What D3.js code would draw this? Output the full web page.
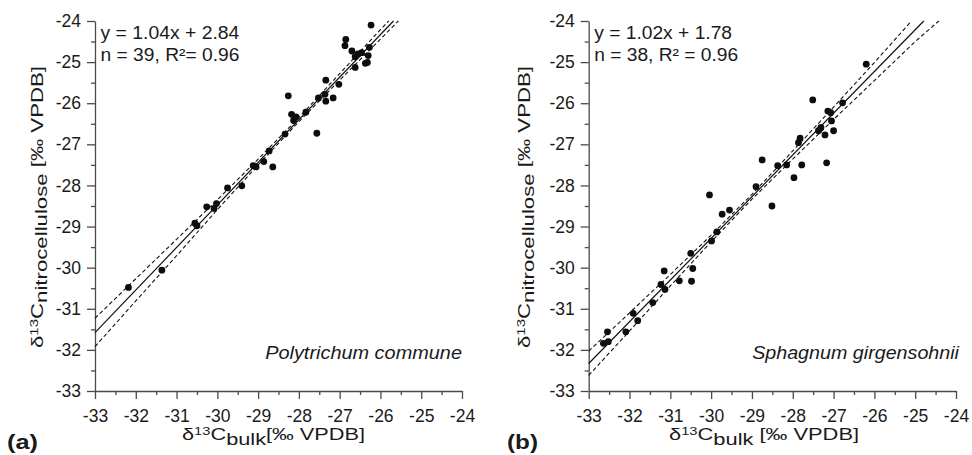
<!DOCTYPE html>
<html><head><meta charset="utf-8">
<script src="https://cdn.jsdelivr.net/npm/d3@7/dist/d3.min.js"></script>
<style>body{margin:0;background:#fff}svg{display:block;font-family:"Liberation Sans",Arial,sans-serif}</style>
</head><body>
<svg id="chart" width="972" height="455"></svg>
<script>
// ---------- DATA ----------
const axisDomain = [-33, -24];
const majorTicks = [-33, -32, -31, -30, -29, -28, -27, -26, -25, -24];
const minorTicks = [-32.5, -31.5, -30.5, -29.5, -28.5, -27.5, -26.5, -25.5, -24.5];

// Panel (a) Polytrichum commune
const bulkA  = [-26.23,-26.85,-26.87,-26.70,-26.62,-26.46,-26.27,-26.30,-26.32,-26.37,-26.62,-27.34,-27.02,-27.36,-27.16,-27.34,-27.52,-27.83,-27.56,-28.26,-28.18,-28.07,-28.13,-28.34,-28.73,-28.86,-28.64,-29.05,-29.12,-29.75,-29.40,-30.26,-30.02,-30.08,-30.55,-30.50,-31.36,-32.18,-26.55];
const nitroA = [-24.10,-24.45,-24.60,-24.73,-24.87,-24.77,-24.64,-24.84,-25.01,-25.03,-25.13,-25.44,-25.54,-25.78,-25.87,-25.95,-25.87,-26.22,-26.73,-25.82,-26.27,-26.33,-26.42,-26.75,-27.16,-27.42,-27.55,-27.55,-27.52,-28.06,-28.01,-28.52,-28.44,-28.56,-28.92,-28.98,-30.06,-30.48,-24.80];
const fitA   = [[-33, -31.58], [-25.68, -24.0]];
const upperA = [[-33,-31.23],[-32,-30.27],[-31,-29.31],[-30,-28.35],[-29,-27.36],[-28,-26.35],[-27,-25.28],[-26,-24.21],[-25.8,-24.0]];
const lowerA = [[-33,-31.92],[-32,-30.81],[-31,-29.71],[-30,-28.59],[-29,-27.50],[-28,-26.45],[-27,-25.44],[-26,-24.44],[-25.56,-24.0]];
const eqA = ["y = 1.04x + 2.84", "n = 39, R\u00B2= 0.96"];
const speciesA = "Polytrichum commune";

// Panel (b) Sphagnum girgensohnii
const bulkB  = [-26.20,-27.51,-26.78,-27.14,-27.07,-27.05,-27.00,-27.21,-27.31,-27.37,-27.82,-27.86,-27.17,-27.78,-28.15,-28.37,-27.97,-28.75,-28.90,-28.51,-30.04,-29.73,-29.55,-29.86,-29.99,-30.50,-30.45,-30.48,-30.78,-31.15,-31.23,-31.13,-31.43,-31.91,-31.80,-32.09,-32.54,-32.64,-32.52];
const nitroB = [-25.05,-25.92,-25.99,-26.19,-26.23,-26.43,-26.67,-26.77,-26.59,-26.67,-26.85,-26.96,-27.45,-27.50,-27.50,-27.52,-27.81,-27.38,-28.03,-28.50,-28.23,-28.70,-28.60,-29.13,-29.35,-29.65,-30.02,-30.33,-30.32,-30.08,-30.41,-30.53,-30.85,-31.11,-31.29,-31.56,-31.56,-31.84,-31.80];
const fitB   = [[-33, -32.33], [-24.79, -24.0]];
const upperB = [[-33,-32.03],[-32,-31.10],[-31,-30.165],[-30,-29.21],[-29,-28.215],[-28,-27.16],[-27,-26.095],[-26,-25.01],[-25.09,-24.0]];
const lowerB = [[-33,-32.62],[-32,-31.54],[-31,-30.445],[-30,-29.37],[-29,-28.335],[-28,-27.36],[-27,-26.395],[-26,-25.45],[-25,-24.5],[-24.42,-24.0]];
const eqB = ["y = 1.02x + 1.78", "n = 38, R\u00B2 = 0.96"];
const speciesB = "Sphagnum girgensohnii";

// ---------- DRAW ----------
const svg = d3.select("#chart");
const TXT = "#1a1a1a", AX = "#4a4a4a";

// place a text group, scaled horizontally to a target width
function fitted(parent, x, y, width, build, anchor, rotate) {
  const g = parent.append("g");
  const t = g.append("text").attr("fill", TXT).attr("text-anchor", anchor || "start");
  build(t);
  const w = t.node().getBBox().width;
  const s = width / w;
  g.attr("transform", `translate(${x},${y})` + (rotate ? " rotate(-90)" : "") + ` scale(${s},1)`);
  return g;
}

function panel(cfg) {
  const x = d3.scaleLinear().domain(axisDomain).range(cfg.xr);
  const y = d3.scaleLinear().domain(axisDomain).range([391, 21]);
  const g = svg.append("g");

  // axes
  const ax = g.append("g").attr("transform", "translate(0,391)")
    .call(d3.axisBottom(x).tickValues(majorTicks).tickSize(8).tickSizeOuter(0).tickPadding(11).tickFormat(d => String(d)));
  g.append("g").attr("transform", "translate(0,391)")
    .call(d3.axisBottom(x).tickValues(minorTicks).tickSize(4).tickSizeOuter(0).tickFormat(""))
    .select(".domain").remove();
  const ay = g.append("g").attr("transform", `translate(${cfg.xr[0]},0)`)
    .call(d3.axisLeft(y).tickValues(majorTicks).tickSize(8).tickSizeOuter(0).tickPadding(6).tickFormat(d => String(d)));
  g.append("g").attr("transform", `translate(${cfg.xr[0]},0)`)
    .call(d3.axisLeft(y).tickValues(minorTicks).tickSize(4).tickSizeOuter(0).tickFormat(""))
    .select(".domain").remove();
  g.selectAll(".domain, .tick line").attr("stroke", AX).attr("stroke-width", 1.3);
  g.selectAll(".tick text").attr("fill", TXT).attr("font-size", 17.5)
    .attr("font-family", '"Liberation Sans",Arial,sans-serif');

  // lines
  const line = d3.line().x(d => x(d[0])).y(d => y(d[1]));
  g.append("path").datum(cfg.upper).attr("d", line).attr("fill", "none")
    .attr("stroke", "#111").attr("stroke-width", 1.1).attr("stroke-dasharray", "4,2.6");
  g.append("path").datum(cfg.lower).attr("d", line).attr("fill", "none")
    .attr("stroke", "#111").attr("stroke-width", 1.1).attr("stroke-dasharray", "4,2.6");
  g.append("path").datum(cfg.fit).attr("d", line).attr("fill", "none")
    .attr("stroke", "#111").attr("stroke-width", 1.2);

  // points
  g.selectAll("circle.pt").data(cfg.bx.map((v, i) => [v, cfg.ny[i]])).join("circle")
    .attr("class", "pt").attr("cx", d => x(d[0])).attr("cy", d => y(d[1]))
    .attr("r", 3.4).attr("fill", "#0d0d0d");

  // equation text
  fitted(g, cfg.xr[0] + 5.5, 39, cfg.eqW[0], t => t.attr("font-size", 18).text(cfg.eq[0]));
  fitted(g, cfg.xr[0] + 5.5, 61, cfg.eqW[1], t => t.attr("font-size", 18).text(cfg.eq[1]));

  // species label
  fitted(g, cfg.spX, 359, cfg.spW, t => t.attr("font-size", 18).attr("font-style", "italic").text(cfg.species), "end");

  // x axis title
  fitted(g, cfg.xlX, 440, cfg.xlW, t => {
    t.attr("font-size", 16.3);
    t.append("tspan").text("\u03B4");
    t.append("tspan").attr("font-size", 11).attr("dy", -5.5).text("13");
    t.append("tspan").attr("dy", 5.5).text("C");
    t.append("tspan").attr("dy", 5).text("bulk");
    t.append("tspan").attr("dy", -5).text(cfg.xlTail);
  });

  // y axis title (rotated)
  fitted(g, cfg.ylX, 207, 282, t => {
    t.attr("font-size", 16.3);
    t.append("tspan").text("\u03B4");
    t.append("tspan").attr("font-size", 11).attr("dy", -5.5).text("13");
    t.append("tspan").attr("dy", 5.5).text("C");
    t.append("tspan").attr("dy", 4).text("nitrocellulose");
    t.append("tspan").attr("dy", -4).text(" [\u2030 VPDB]");
  }, "middle", true);

  // panel letter
  fitted(g, cfg.letX, 449, 31, t => t.attr("font-size", 21).attr("font-weight", "bold").text(cfg.letter));
}

panel({ xr: [95, 462], bx: bulkA, ny: nitroA, fit: fitA, upper: upperA, lower: lowerA,
  eq: eqA, eqW: [139, 139], species: speciesA, spX: 462, spW: 197,
  xlX: 182, xlW: 183, xlTail: "[\u2030 VPDB]", ylX: 43, letX: 7, letter: "(a)" });
panel({ xr: [588.7, 956], bx: bulkB, ny: nitroB, fit: fitB, upper: upperB, lower: lowerB,
  eq: eqB, eqW: [138, 144], species: speciesB, spX: 959, spW: 208,
  xlX: 669, xlW: 190, xlTail: " [\u2030 VPDB]", ylX: 530, letX: 507, letter: "(b)" });
</script>
</body></html>
